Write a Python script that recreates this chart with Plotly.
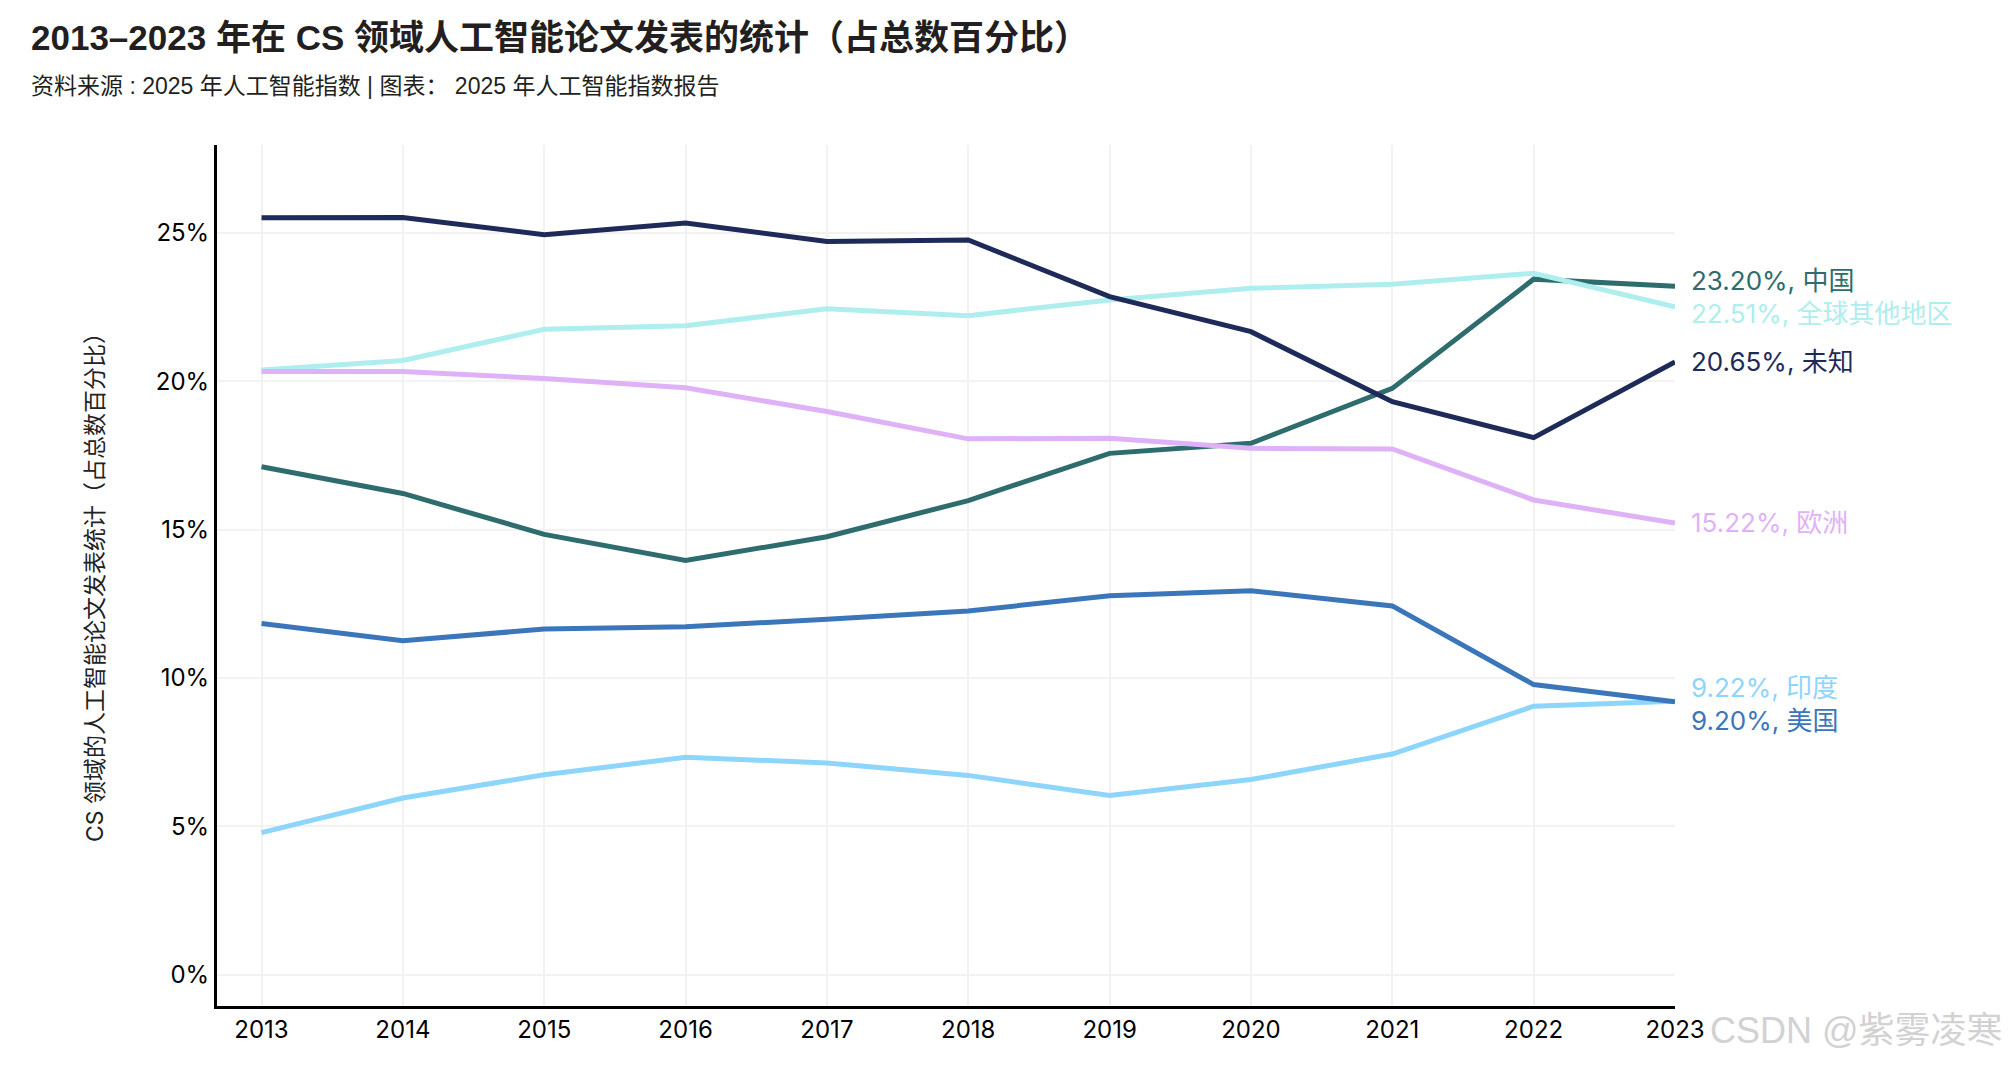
import plotly.graph_objects as go

years = [2013, 2014, 2015, 2016, 2017, 2018, 2019, 2020, 2021, 2022, 2023]

series_names = ["中国", "全球其他地区", "未知", "欧洲", "印度", "美国"]
china = [17.12, 16.22, 14.84, 13.96, 14.76, 15.98, 17.57, 17.91, 19.76, 23.44, 23.20]
rest_of_world = [20.38, 20.70, 21.75, 21.87, 22.44, 22.21, 22.74, 23.13, 23.27, 23.64, 22.51]
unknown = [25.51, 25.52, 24.94, 25.33, 24.71, 24.76, 22.85, 21.67, 19.31, 18.10, 20.65]
europe = [20.33, 20.33, 20.09, 19.78, 18.98, 18.06, 18.08, 17.74, 17.72, 16.00, 15.22]
india = [4.79, 5.96, 6.74, 7.33, 7.14, 6.72, 6.04, 6.58, 7.44, 9.05, 9.22]
usa = [11.84, 11.26, 11.65, 11.73, 11.98, 12.26, 12.77, 12.94, 12.43, 9.78, 9.20]
series_values = [china, rest_of_world, unknown, europe, india, usa]

y_tick_vals = [0, 5, 10, 15, 20, 25]
y_tick_text = ["0%", "5%", "10%", "15%", "20%", "25%"]

title_text = "2013–2023 年在 CS 领域人工智能论文发表的统计（占总数百分比）"
subtitle_text = "资料来源 : 2025 年人工智能指数 | 图表： 2025 年人工智能指数报告"
y_title_text = "CS 领域的人工智能论文发表统计（占总数百分比）"
watermark_text = "CSDN @紫雾凌寒"

colors = ["#2e6c6d", "#aeeeee", "#1e2b59", "#dfb2f8", "#8ed5fb", "#3b76ba"]
label_yshift = [6, -7, 0, 1, 14, -19]

FONT = "Inter, 'Noto Sans CJK SC', sans-serif"
HEAD_FONT = "'Liberation Sans', 'Noto Sans CJK SC', sans-serif"

fig = go.Figure()
for name, vals, col in zip(series_names, series_values, colors):
    fig.add_trace(go.Scatter(x=years, y=vals, mode="lines", name=name,
                             line=dict(color=col, width=5), showlegend=False,
                             hoverinfo="skip"))

annotations = []
for name, vals, col, ys in zip(series_names, series_values, colors, label_yshift):
    annotations.append(dict(x=years[-1], y=vals[-1], xref="x", yref="y",
                            text=f"{vals[-1]:.2f}%, {name}", showarrow=False,
                            xanchor="left", yanchor="middle", xshift=14, yshift=ys,
                            font=dict(family=FONT, size=26, color=col)))

annotations.append(dict(x=-0.1289, y=1.1245, xref="paper", yref="paper",
                        text="<b>" + title_text + "</b>", showarrow=False,
                        xanchor="left", yanchor="middle",
                        font=dict(family=HEAD_FONT, size=35, color="#231f20")))
annotations.append(dict(x=-0.1289, y=1.0685, xref="paper", yref="paper",
                        text=subtitle_text, showarrow=False,
                        xanchor="left", yanchor="middle",
                        font=dict(family=HEAD_FONT, size=23, color="#231f20")))
annotations.append(dict(x=-0.0836, y=0.4925, xref="paper", yref="paper",
                        text=y_title_text, showarrow=False, textangle=-90,
                        xanchor="center", yanchor="middle",
                        font=dict(family=FONT, size=23, color="#222222")))
annotations.append(dict(x=1.0226, y=-0.029, xref="paper", yref="paper",
                        text=watermark_text, showarrow=False,
                        xanchor="left", yanchor="middle",
                        font=dict(family=HEAD_FONT, size=36, color="#d2d2d2")))

fig.update_layout(
    plot_bgcolor="white",
    paper_bgcolor="white",
    margin=dict(l=209, r=331, t=137, b=52),
    annotations=annotations,
    font=dict(family=FONT, size=24, color="#000000"),
    xaxis=dict(range=[2012.685, 2023.0], tickvals=years, ticktext=[str(y) for y in years],
               showgrid=True, gridcolor="#f2f2f2", gridwidth=1.5,
               showline=True, linecolor="#000000", linewidth=3,
               ticks="", zeroline=False,
               tickfont=dict(family=FONT, size=24, color="#000000")),
    yaxis=dict(range=[-1.05, 27.96], tickvals=y_tick_vals, ticktext=y_tick_text,
               showgrid=True, gridcolor="#f2f2f2", gridwidth=1.5,
               showline=True, linecolor="#000000", linewidth=3,
               ticks="", zeroline=False,
               tickfont=dict(family=FONT, size=24, color="#000000")),
)

fig.write_html("out.html")
